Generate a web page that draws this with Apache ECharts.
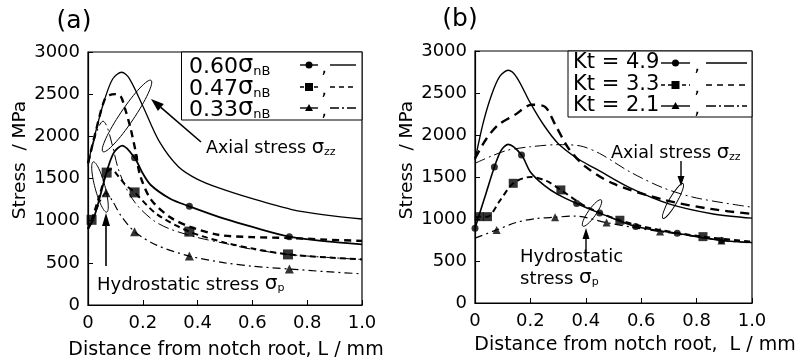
<!DOCTYPE html>
<html>
<head>
<meta charset="utf-8">
<script src="https://cdn.jsdelivr.net/npm/echarts@6/dist/echarts.min.js"></script>
<style>
html, body { margin: 0; padding: 0; background: #fff; }
#chart { width: 804px; height: 363px; }
</style>
</head>
<body>
<div id="chart"></div>
<script>
// ---- axes ----
const xTicks = [0, 0.2, 0.4, 0.6, 0.8, 1.0];
const yTicks = [0, 500, 1000, 1500, 2000, 2500, 3000];

// ---- (a) load level: axial stress curves ----
const aAxial60X = [0, 0.03, 0.06, 0.09, 0.123, 0.15, 0.2, 0.26, 0.33, 0.4, 0.48, 0.6, 0.74, 0.87, 1.0];
const aAxial60Y = [1680, 2080, 2430, 2680, 2760, 2690, 2360, 1940, 1640, 1490, 1385, 1260, 1135, 1065, 1020];
const aAxial47X = [0, 0.03, 0.06, 0.08, 0.1, 0.12, 0.135, 0.155, 0.175, 0.19, 0.23, 0.3, 0.37, 0.48, 0.6, 0.73, 0.87, 1.0];
const aAxial47Y = [1680, 2080, 2430, 2490, 2500, 2470, 2330, 2100, 1800, 1540, 1250, 1040, 930, 830, 805, 795, 775, 760];
const aAxial33X = [0, 0.02, 0.04, 0.055, 0.07, 0.09, 0.11, 0.14, 0.18, 0.24, 0.3, 0.4, 0.5, 0.6, 0.73, 0.87, 1.0];
const aAxial33Y = [1650, 1920, 2120, 2180, 2110, 1880, 1620, 1380, 1180, 1000, 900, 800, 730, 660, 600, 565, 540];

// ---- (a) load level: hydrostatic stress curves and their markers ----
const aHydro60X = [0, 0.02, 0.045, 0.07, 0.095, 0.125, 0.17, 0.2, 0.23, 0.3, 0.37, 0.5, 0.6, 0.735, 0.87, 1.0];
const aHydro60Y = [900, 1020, 1300, 1600, 1810, 1890, 1745, 1560, 1420, 1260, 1170, 1020, 925, 810, 755, 720];
const aHydro60MarkX = [0.17, 0.37, 0.735];
const aHydro60MarkY = [1745, 1170, 810];
const aHydro47X = [0, 0.013, 0.04, 0.068, 0.085, 0.11, 0.135, 0.17, 0.25, 0.37, 0.5, 0.6, 0.73, 0.87, 1.0];
const aHydro47Y = [900, 1010, 1280, 1570, 1610, 1530, 1430, 1335, 1080, 870, 740, 670, 600, 565, 540];
const aHydro47MarkX = [0.013, 0.068, 0.17, 0.37, 0.73];
const aHydro47MarkY = [1010, 1570, 1335, 870, 600];
const aHydro33X = [0, 0.03, 0.066, 0.09, 0.12, 0.17, 0.25, 0.37, 0.5, 0.6, 0.735, 0.87, 1.0];
const aHydro33Y = [900, 1120, 1330, 1230, 1060, 870, 710, 580, 500, 460, 427, 395, 370];
const aHydro33MarkX = [0.066, 0.17, 0.37, 0.735];
const aHydro33MarkY = [1330, 870, 580, 427];

// ---- (b) notch factor: axial stress curves ----
const bAxial49X = [0, 0.03, 0.06, 0.09, 0.12, 0.15, 0.2, 0.25, 0.3, 0.37, 0.44, 0.56, 0.7, 0.86, 1.0];
const bAxial49Y = [1700, 2150, 2480, 2700, 2770, 2690, 2380, 2110, 1900, 1720, 1590, 1370, 1180, 1060, 1010];
const bAxial33X = [0, 0.04, 0.084, 0.144, 0.205, 0.253, 0.29, 0.34, 0.4, 0.5, 0.68, 0.85, 1.0];
const bAxial33Y = [1720, 1950, 2120, 2240, 2360, 2335, 2120, 1830, 1620, 1420, 1230, 1120, 1060];
const bAxial21X = [0, 0.06, 0.12, 0.2, 0.3, 0.38, 0.45, 0.56, 0.68, 0.8, 1.0];
const bAxial21Y = [1663, 1750, 1821, 1860, 1885, 1870, 1780, 1560, 1370, 1250, 1140];

// ---- (b) notch factor: hydrostatic stress curves and their markers ----
const bHydro49X = [0, 0.035, 0.07, 0.095, 0.12, 0.168, 0.2, 0.25, 0.3, 0.367, 0.45, 0.58, 0.73, 0.89, 1.0];
const bHydro49Y = [890, 1255, 1620, 1820, 1888, 1761, 1560, 1400, 1290, 1185, 1070, 910, 830, 745, 720];
const bHydro49MarkX = [0, 0.07, 0.168, 0.367, 0.45, 0.58, 0.73, 0.89];
const bHydro49MarkY = [890, 1620, 1761, 1185, 1070, 910, 830, 745];
const bHydro33X = [0, 0.015, 0.045, 0.09, 0.138, 0.2, 0.26, 0.31, 0.4, 0.523, 0.65, 0.823, 1.0];
const bHydro33Y = [1020, 1028, 1028, 1220, 1425, 1500, 1450, 1346, 1150, 985, 880, 790, 730];
const bHydro33MarkX = [0.015, 0.045, 0.138, 0.31, 0.523, 0.823];
const bHydro33MarkY = [1028, 1028, 1425, 1346, 985, 790];
const bHydro21X = [0, 0.078, 0.15, 0.22, 0.289, 0.36, 0.475, 0.57, 0.668, 0.78, 0.89, 1.0];
const bHydro21Y = [772, 870, 960, 1005, 1021, 1035, 957, 900, 850, 800, 745, 715];
const bHydro21MarkX = [0.078, 0.289, 0.475, 0.668, 0.89];
const bHydro21MarkY = [870, 1021, 957, 850, 745];

// ---- legend labels ----
const legendA = ['0.60', '0.47', '0.33'];
const legendB = ['Kt = 4.9', 'Kt = 3.3', 'Kt = 2.1'];

const FONT = 'DejaVu Sans';
const INK = '#000';

const pairs = (xs, ys) => xs.map((x, i) => [x, ys[i]]);

function curve(panel, xs, ys, width, dash) {
  return {
    type: 'line', xAxisIndex: panel, yAxisIndex: panel,
    data: pairs(xs, ys), symbol: 'none', smooth: 0.3,
    lineStyle: { color: INK, width: width, type: dash || 'solid' },
    silent: true, z: 3
  };
}
function marks(panel, xs, ys, symbol, size) {
  return {
    type: 'scatter', xAxisIndex: panel, yAxisIndex: panel,
    data: pairs(xs, ys), symbol: symbol, symbolSize: size,
    itemStyle: { color: INK }, silent: true, z: 4
  };
}

const DASH = [7, 5];
const DASH_THIN = [6, 4];
const DASHDOT = [11, 4, 2, 4];

function xAxis(gridIndex) {
  return {
    type: 'value', gridIndex: gridIndex, min: 0, max: 1, interval: 0.2,
    axisLine: { lineStyle: { color: INK, width: 1.2 } },
    axisTick: { inside: true, length: 5, lineStyle: { color: INK } },
    splitLine: { show: false },
    axisLabel: {
      color: INK, fontFamily: FONT, fontSize: 18, margin: 9,
      formatter: v => (v === 0 ? '0' : v.toFixed(1))
    }
  };
}
function yAxis(gridIndex) {
  return {
    type: 'value', gridIndex: gridIndex, min: 0, max: 3000, interval: 500,
    axisLine: { show: true, lineStyle: { color: INK, width: 1.2 } },
    axisTick: { show: true, inside: true, length: 5, lineStyle: { color: INK } },
    splitLine: { show: false },
    axisLabel: { color: INK, fontFamily: FONT, fontSize: 18, margin: 8, formatter: v => String(v) }
  };
}

// ---- annotation helpers (pixel layout) ----
function arrow(x1, y1, x2, y2, headLen, headW, lw) {
  const a = Math.atan2(y2 - y1, x2 - x1);
  const bx = x2 - headLen * Math.cos(a), by = y2 - headLen * Math.sin(a);
  const nx = -Math.sin(a) * headW / 2, ny = Math.cos(a) * headW / 2;
  return [
    { type: 'line', shape: { x1: x1, y1: y1, x2: bx, y2: by }, style: { stroke: INK, lineWidth: lw } },
    { type: 'polygon', shape: { points: [[x2, y2], [bx + nx, by + ny], [bx - nx, by - ny]] }, style: { fill: INK } }
  ];
}
function loop(cx, cy, rx, ry, deg) {
  return {
    type: 'ellipse', x: cx, y: cy, rotation: deg * Math.PI / 180,
    shape: { cx: 0, cy: 0, rx: rx, ry: ry },
    style: { fill: 'none', stroke: INK, lineWidth: 0.9 }
  };
}
function txt(x, y, text, size, align, extra) {
  return Object.assign({
    type: 'text', x: x, y: y,
    style: { text: text, fill: INK, font: size + 'px "' + FONT + '"', textAlign: align || 'left', textVerticalAlign: 'middle' }
  }, extra || {});
}
function sigmaLabel(x, y, prefix, sub, size) {
  return {
    type: 'text', x: x, y: y,
    style: {
      text: (prefix ? '{t|' + prefix + '}' : '') + '{s|σ}{u|' + sub + '}',
      fill: INK, textAlign: 'left', textVerticalAlign: 'middle',
      rich: {
        t: { fontFamily: FONT, fontSize: size, fill: INK, lineHeight: size + 4, verticalAlign: 'bottom' },
        s: { fontFamily: FONT, fontSize: size + 2, fill: INK, lineHeight: size + 4, verticalAlign: 'bottom' },
        u: { fontFamily: FONT, fontSize: Math.round(size * 0.6), fill: INK, lineHeight: size + 1, verticalAlign: 'bottom' }
      }
    }
  };
}
// legend sample: short line with a marker, a comma, then a plain line sample
function legendRow(y, x0, x1, mark, markSize, dashMarker, cx, lx0, lx1, lineDash, lineW) {
  const mx = (x0 + x1) / 2;
  const out = [];
  out.push({ type: 'line', shape: { x1: x0, y1: y, x2: x1, y2: y }, style: { stroke: INK, lineWidth: 1.4, lineDash: dashMarker } });
  if (mark === 'circle') out.push({ type: 'circle', shape: { cx: mx, cy: y, r: markSize / 2 }, style: { fill: INK } });
  if (mark === 'rect') out.push({ type: 'rect', shape: { x: mx - markSize / 2, y: y - markSize / 2, width: markSize, height: markSize }, style: { fill: INK } });
  if (mark === 'triangle') out.push({ type: 'polygon', shape: { points: [[mx, y - markSize / 2], [mx + markSize / 2, y + markSize / 2 - 1], [mx - markSize / 2, y + markSize / 2 - 1]] }, style: { fill: INK } });
  out.push(txt(cx, y + 3, ',', 18, 'center'));
  out.push({ type: 'line', shape: { x1: lx0, y1: y, x2: lx1, y2: y }, style: { stroke: INK, lineWidth: lineW, lineDash: lineDash } });
  return out;
}

const graphics = [];
// panel titles
graphics.push(txt(74, 21, '(a)', 25, 'center'));
graphics.push(txt(460, 19, '(b)', 25, 'center'));
// axis names
graphics.push(txt(20, 160, 'Stress  / MPa', 18.5, 'center', { rotation: Math.PI / 2 }));
graphics.push(txt(407, 160, 'Stress  / MPa', 18.5, 'center', { rotation: Math.PI / 2 }));
graphics.push(txt(226, 350, 'Distance from notch root, L / mm', 19, 'center'));
graphics.push(txt(635, 345, 'Distance from notch root,  L / mm', 19, 'center'));

// legend (a)
graphics.push({ type: 'rect', shape: { x: 181.5, y: 52, width: 180.5, height: 68 }, style: { fill: '#fff', stroke: INK, lineWidth: 1 }, z: 5 });
const rowsA = [65, 87, 108];
legendA.forEach((lab, i) => {
  graphics.push(Object.assign(sigmaLabel(189, rowsA[i], lab, 'nB', 22), { z: 6 }));
});
[
  legendRow(rowsA[0], 300, 318, 'circle', 7, null, 324, 330, 356, null, 1.4),
  legendRow(rowsA[1], 300, 318, 'rect', 8, [4, 3], 324, 330, 356, [5, 4], 1.4),
  legendRow(rowsA[2], 300, 318, 'triangle', 8, null, 324, 330, 356, [9, 3, 2, 3], 1.4)
].forEach(r => r.forEach(g => graphics.push(Object.assign(g, { z: 6 }))));

// legend (b)
graphics.push({ type: 'rect', shape: { x: 568, y: 51, width: 184, height: 66 }, style: { fill: '#fff', stroke: INK, lineWidth: 1 }, z: 5 });
const rowsB = [63, 85, 106];
legendB.forEach((lab, i) => graphics.push(Object.assign(txt(573, rowsB[i], lab, 21), { z: 6 })));
[
  legendRow(rowsB[0], 661, 690, 'circle', 7, null, 697, 706, 747, null, 1.4),
  legendRow(rowsB[1], 661, 690, 'rect', 8, [4, 3], 697, 706, 747, [6, 5], 1.4),
  legendRow(rowsB[2], 661, 690, 'triangle', 8, null, 697, 706, 747, [10, 3, 2, 3], 1.4)
].forEach(r => r.forEach(g => graphics.push(Object.assign(g, { z: 6 }))));

// annotations (a)
graphics.push(loop(127, 116, 43, 7, 56));
arrow(201, 142, 151, 99, 13, 9, 1.6).forEach(g => graphics.push(g));
graphics.push(sigmaLabel(206, 147, 'Axial stress ', 'zz', 17.5));
graphics.push(loop(100, 187, 26, 5, 105));
arrow(106, 266, 106, 213, 13, 8, 1.6).forEach(g => graphics.push(g));
graphics.push(sigmaLabel(97, 283, 'Hydrostatic stress ', 'p', 18));

// annotations (b)
graphics.push(sigmaLabel(611, 152, 'Axial stress ', 'zz', 17.5));
arrow(681, 161, 681, 186, 10, 7, 1.4).forEach(g => graphics.push(g));
graphics.push(loop(673, 201, 20, 4, 60));
graphics.push(loop(592, 213, 16, 4, 55));
arrow(586, 257, 586, 228, 11, 7, 1.4).forEach(g => graphics.push(g));
graphics.push(txt(520, 257, 'Hydrostatic', 18));
graphics.push(sigmaLabel(520, 277, 'stress ', 'p', 18));

const chart = echarts.init(document.getElementById('chart'), null, { renderer: 'canvas' });
chart.setOption({
  animation: false,
  backgroundColor: '#fff',
  grid: [
    { left: 88, top: 52, width: 274, height: 253, show: true, borderColor: INK, borderWidth: 1.2, containLabel: false },
    { left: 475, top: 51, width: 277, height: 252, show: true, borderColor: INK, borderWidth: 1.2, containLabel: false }
  ],
  xAxis: [xAxis(0), xAxis(1)],
  yAxis: [yAxis(0), yAxis(1)],
  series: [
    curve(0, aAxial60X, aAxial60Y, 1.3),
    curve(0, aAxial47X, aAxial47Y, 2.4, DASH),
    curve(0, aAxial33X, aAxial33Y, 1.0, DASHDOT),
    curve(0, aHydro60X, aHydro60Y, 1.8),
    curve(0, aHydro47X, aHydro47Y, 2.0, DASH_THIN),
    curve(0, aHydro33X, aHydro33Y, 1.2, [8, 4, 2, 4]),
    marks(0, aHydro60MarkX, aHydro60MarkY, 'circle', 7),
    marks(0, aHydro47MarkX, aHydro47MarkY, 'rect', 10),
    marks(0, aHydro33MarkX, aHydro33MarkY, 'triangle', 9),

    curve(1, bAxial49X, bAxial49Y, 1.4),
    curve(1, bAxial33X, bAxial33Y, 2.4, [9, 6]),
    curve(1, bAxial21X, bAxial21Y, 1.0, DASHDOT),
    curve(1, bHydro49X, bHydro49Y, 1.6),
    curve(1, bHydro33X, bHydro33Y, 2.0, DASH_THIN),
    curve(1, bHydro21X, bHydro21Y, 1.2, [8, 4, 2, 4]),
    marks(1, bHydro49MarkX, bHydro49MarkY, 'circle', 7),
    marks(1, bHydro33MarkX, bHydro33MarkY, 'rect', 9),
    marks(1, bHydro21MarkX, bHydro21MarkY, 'triangle', 8)
  ],
  graphic: graphics
});
</script>
</body>
</html>
